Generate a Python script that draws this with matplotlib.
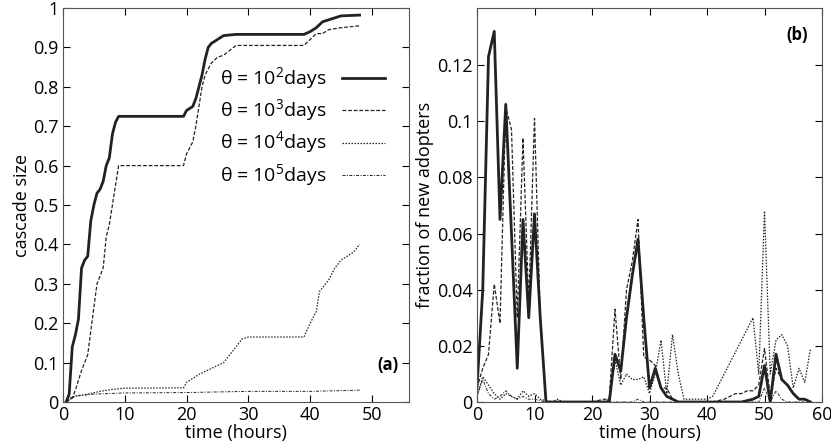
import numpy as np
import matplotlib.pyplot as plt

plt.rcParams['font.family'] = 'Open Sans'
plt.rcParams['mathtext.fontset'] = 'custom'
plt.rcParams['mathtext.rm'] = 'Open Sans'

# panel (a): cumulative cascade size
t2 = [0.5, 1, 1.5, 2, 2.5, 3, 3.5, 4, 4.5, 5, 5.5, 6, 6.5, 7, 7.5, 8, 8.5, 9, 19.5, 20, 21, 21.5, 22, 22.5, 23, 23.5, 24, 25, 26, 28, 39, 40, 41, 42, 43, 44, 45, 48]
c2 = [0, 0.02, 0.14, 0.17, 0.21, 0.34, 0.36, 0.37, 0.46, 0.5, 0.53, 0.54, 0.56, 0.6, 0.62, 0.68, 0.71, 0.725, 0.725, 0.74, 0.75, 0.77, 0.80, 0.83, 0.87, 0.9, 0.91, 0.92, 0.93, 0.933, 0.933, 0.94, 0.95, 0.965, 0.97, 0.975, 0.98, 0.982]
t3 = [0.5, 1.5, 2, 3, 3.5, 4, 4.5, 5, 5.5, 6, 6.5, 7, 7.5, 8, 8.5, 9, 19.5, 20, 21, 21.5, 22, 22.5, 23, 24, 25, 26, 28, 39, 40, 41, 42, 43, 45, 48]
c3 = [0, 0.01, 0.03, 0.08, 0.1, 0.12, 0.18, 0.24, 0.3, 0.32, 0.34, 0.42, 0.45, 0.5, 0.55, 0.6, 0.6, 0.63, 0.66, 0.7, 0.75, 0.8, 0.83, 0.86, 0.875, 0.88, 0.905, 0.905, 0.92, 0.935, 0.935, 0.945, 0.95, 0.955]
t4 = [0.5, 1, 2, 4, 6, 8, 10, 19.5, 20, 22, 24, 26, 27, 28, 29, 30, 39, 40, 41, 41.5, 42.5, 43, 44, 45, 47, 48]
c4 = [0, 0.01, 0.015, 0.02, 0.027, 0.032, 0.035, 0.036, 0.05, 0.07, 0.085, 0.1, 0.12, 0.14, 0.16, 0.165, 0.165, 0.2, 0.23, 0.28, 0.3, 0.31, 0.34, 0.36, 0.38, 0.4]
t5 = [0.5, 2, 5, 10, 20, 30, 40, 48]
c5 = [0, 0.015, 0.02, 0.023, 0.024, 0.027, 0.027, 0.03]

# panel (b): hourly fraction of new adopters
hours = np.arange(59)
f2 = [0.005, 0.04, 0.123, 0.132, 0.065, 0.106, 0.06, 0.012, 0.065, 0.03, 0.067, 0.03, 0,
      0, 0, 0, 0, 0, 0, 0, 0, 0, 0, 0, 0.017, 0.011, 0.03, 0.045, 0.058, 0.03, 0.005,
      0.012, 0.005, 0.002, 0.001, 0, 0, 0, 0, 0, 0, 0, 0, 0, 0, 0, 0, 0.0005, 0.001,
      0.002, 0.013, 0, 0.017, 0.008, 0.006, 0.003, 0.001, 0.001, 0]
f3 = [0.005, 0.012, 0.017, 0.042, 0.028, 0.105, 0.097, 0.03, 0.094, 0.035, 0.101, 0.03, 0,
      0, 0, 0, 0, 0, 0, 0, 0, 0.0005, 0.001, 0.001, 0.033, 0.008, 0.04, 0.05, 0.065, 0.016, 0.015,
      0.013, 0.005, 0.005, 0.001, 0, 0, 0, 0, 0, 0, 0, 0.0005, 0.001, 0.002, 0.003, 0.003, 0.004, 0.004,
      0.006, 0.019, 0.002, 0.012, 0.008, 0.006, 0.003, 0.001, 0.001, 0]
f4 = [0.002, 0.009, 0.006, 0.003, 0.001, 0.003, 0.002, 0.001, 0.004, 0.002, 0.003, 0.001, 0.0005,
      0, 0.001, 0, 0, 0, 0, 0, 0, 0, 0, 0.001, 0.015, 0.006, 0.01, 0.008, 0.008, 0.009, 0.003,
      0.01, 0.022, 0.003, 0.024, 0.01, 0.001, 0.001, 0.001, 0.001, 0.001, 0.002, 0.006, 0.01, 0.014, 0.018, 0.022, 0.026, 0.03,
      0.01, 0.068, 0.01, 0.022, 0.024, 0.02, 0.005, 0.012, 0.007, 0.019]
f5 = [0.002, 0.008, 0.003, 0.001, 0.002, 0.004, 0.002, 0.001, 0.002, 0.001, 0.001, 0.0005, 0,
      0, 0, 0, 0, 0, 0, 0, 0, 0, 0, 0, 0, 0, 0, 0, 0.001, 0, 0,
      0, 0, 0, 0, 0, 0, 0, 0, 0, 0, 0, 0, 0, 0, 0, 0, 0, 0,
      0, 0.005, 0, 0.004, 0.001, 0, 0, 0, 0, 0]

labels = [r'θ = 10$^2$days', r'θ = 10$^3$days', r'θ = 10$^4$days', r'θ = 10$^5$days']
styles = [dict(ls='-', lw=2.0), dict(ls=(0, (3, 1.5)), lw=0.9),
          dict(ls=(0, (1.2, 1.2)), lw=0.9), dict(ls=(0, (3, 1.5, 1, 1.5)), lw=0.7)]

fig = plt.figure(figsize=(8.31, 4.42), dpi=100)
ax1 = fig.add_axes([63 / 831, 40 / 442, 346 / 831, 394 / 442])
ax2 = fig.add_axes([477 / 831, 40 / 442, 345 / 831, 394 / 442])

for t, c, lab, st in zip([t2, t3, t4, t5], [c2, c3, c4, c5], labels, styles):
    ax1.plot(t, c, color='#222222', label=lab, **st)
for f, st in zip([f2, f3, f4, f5], styles):
    ax2.plot(hours, f, color='#222222', **st)

ax1.set_xlim(0, 56)
ax1.set_ylim(0, 1)
ax1.set_xticks([0, 10, 20, 30, 40, 50])
ax1.set_yticks(np.arange(0, 1.01, 0.1))
ax1.set_yticklabels(['0', '0.1', '0.2', '0.3', '0.4', '0.5', '0.6', '0.7', '0.8', '0.9', '1'])
ax1.set_xlabel('time (hours)', fontsize=13, labelpad=0)
ax1.set_ylabel('cascade size', fontsize=13, labelpad=2)
ax1.text(0.97, 0.08, '(a)', transform=ax1.transAxes, ha='right', fontsize=12, fontweight='bold')
ax1.legend(loc='upper right', bbox_to_anchor=(0.98, 0.9), frameon=False, markerfirst=False,
           fontsize=14, handlelength=2.2, labelspacing=0.3)

ax2.set_xlim(0, 60)
ax2.set_ylim(0, 0.1403)
ax2.set_yticks([0, 0.02, 0.04, 0.06, 0.08, 0.1, 0.12])
ax2.set_yticklabels(['0', '0.02', '0.04', '0.06', '0.08', '0.1', '0.12'])
ax2.set_xlabel('time (hours)', fontsize=13, labelpad=0)
ax2.set_ylabel('fraction of new adopters', fontsize=13, labelpad=2)
ax2.text(0.96, 0.92, '(b)', transform=ax2.transAxes, ha='right', fontsize=12, fontweight='bold')

for ax in (ax1, ax2):
    ax.tick_params(direction='in', top=True, right=True, labelsize=13, length=5, pad=3)
    for s in ax.spines.values():
        s.set_color('#555555')

fig.savefig('out.png', dpi=100)
